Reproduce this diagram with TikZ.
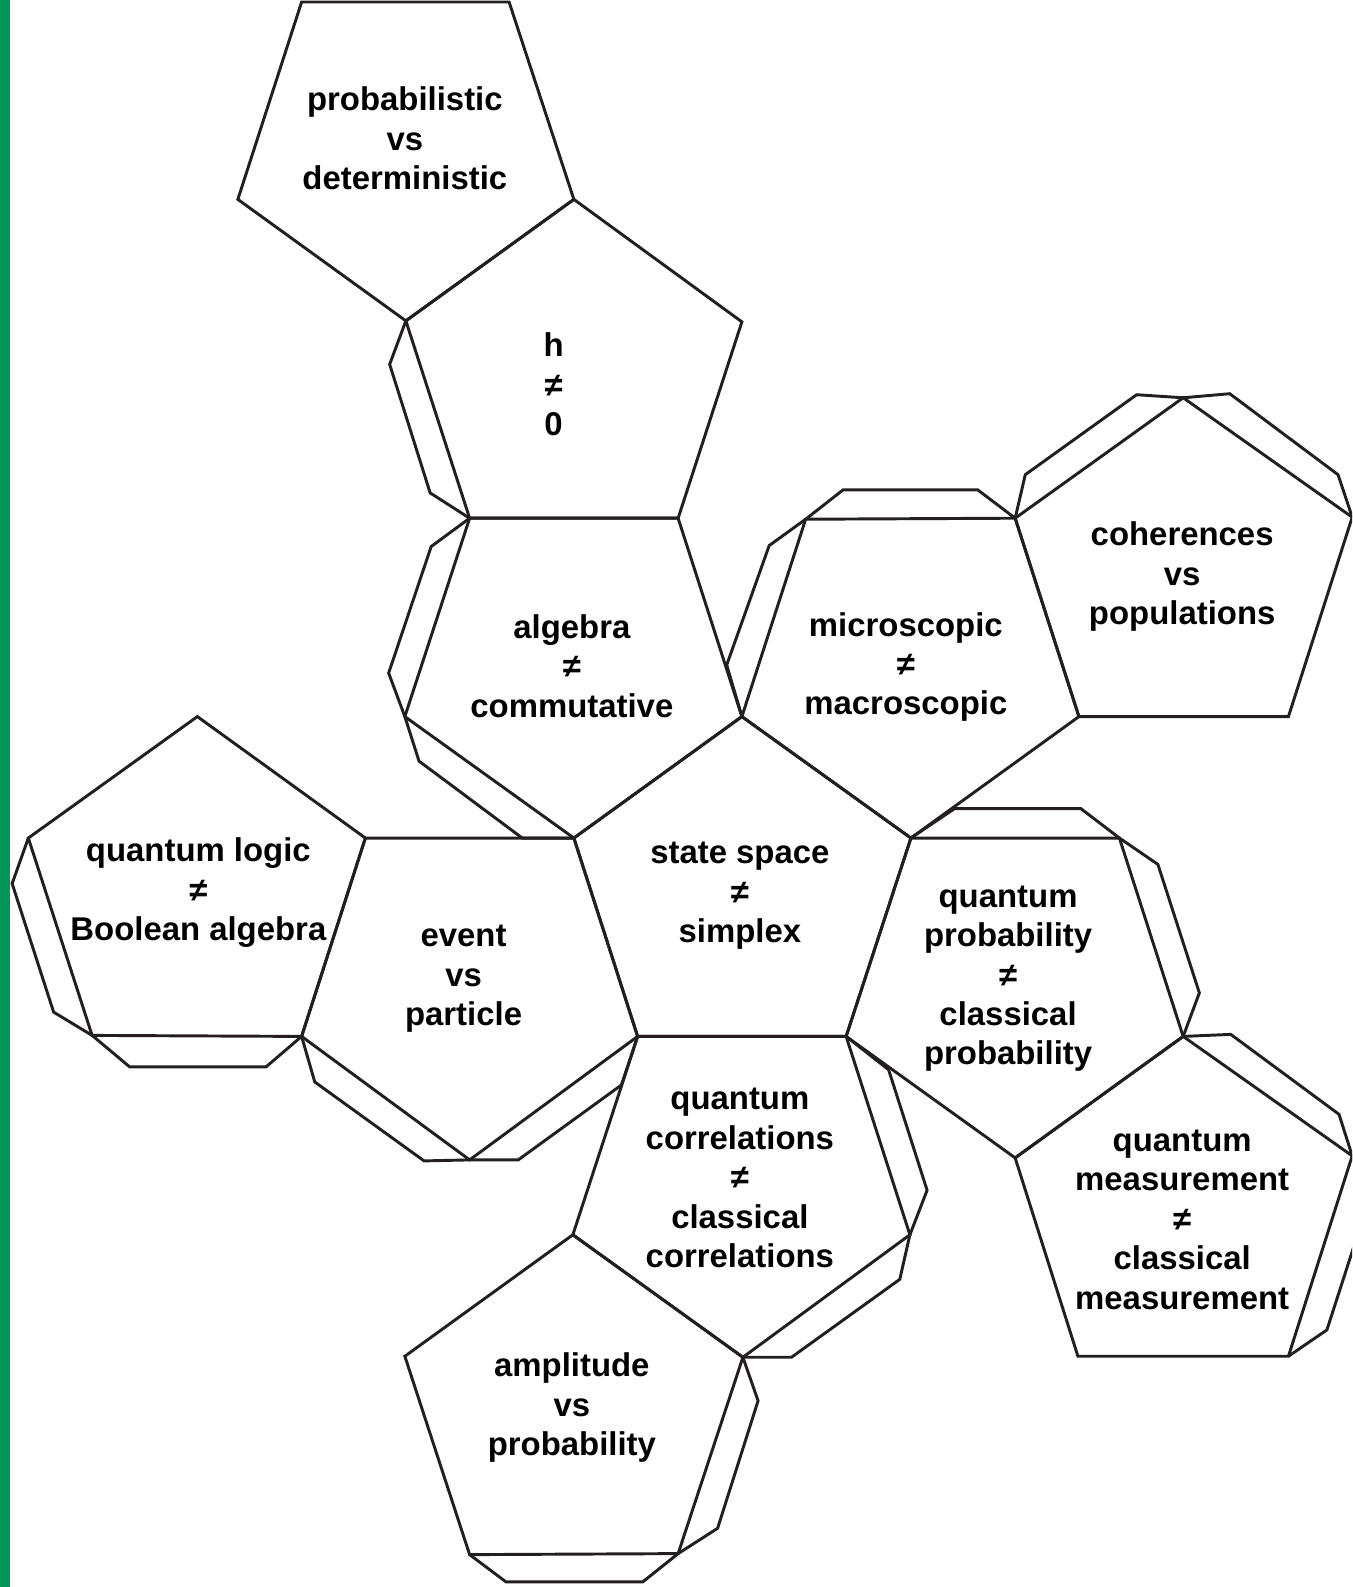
\documentclass[tikz,border=0pt]{standalone}
\usepackage{fontspec}
\setmainfont{Liberation Sans}
\definecolor{ink}{HTML}{231F20}
\definecolor{barcol}{RGB}{0,150,87}
\begin{document}
\begin{tikzpicture}[x=0.5pt,y=-0.5pt,
  face/.style={draw=ink,line width=1.45pt,line join=miter},
  tab/.style={draw=ink,line width=1.45pt,line join=miter},
  lbl/.style={align=center,inner sep=0pt,text=black,font=\fontsize{16.25}{19.5}\selectfont\bfseries}]
\useasboundingbox (0,0) rectangle (1336,1568);
\clip (0,0) rectangle (1336,1568);
\fill[white] (0,0) rectangle (1336,1568);
\fill[barcol] (0,0) rectangle (10,1568);
% vertices
\coordinate (p1) at (298,2);
\coordinate (p2) at (503,2);
\coordinate (p3) at (235,197);
\coordinate (p4) at (567,197);
\coordinate (p5) at (401,317);
\coordinate (h3) at (733,318);
\coordinate (h4) at (670,512);
\coordinate (h5) at (464,512);
\coordinate (a3) at (400,708);
\coordinate (a4) at (733,708);
\coordinate (a5) at (567,828);
\coordinate (c3) at (900,828);
\coordinate (c4) at (836,1024);
\coordinate (c5) at (630,1024);
\coordinate (m1) at (796,513);
\coordinate (m2) at (1003,512);
\coordinate (m3) at (1066,708);
\coordinate (co1) at (1169,393);
\coordinate (co2) at (1336,511);
\coordinate (co3) at (1273,708);
\coordinate (qp2) at (1106,828);
\coordinate (qp3) at (1169,1024);
\coordinate (qp4) at (1003,1144);
\coordinate (qm2) at (1336,1142);
\coordinate (qm3) at (1273,1340);
\coordinate (qm4) at (1065,1340);
\coordinate (e1) at (361,828);
\coordinate (e2) at (298,1024);
\coordinate (e3) at (464,1146);
\coordinate (ql1) at (195,708);
\coordinate (ql2) at (28,828);
\coordinate (ql3) at (91,1023);
\coordinate (qc1) at (566,1220);
\coordinate (qc2) at (899,1220);
\coordinate (qc3) at (734,1341);
\coordinate (ap1) at (400,1340);
\coordinate (ap2) at (464,1536);
\coordinate (ap3) at (670,1535);
% faces
\draw[face] (p1) -- (p2) -- (p4) -- (p5) -- (p3) -- cycle;
\draw[face] (p4) -- (h3) -- (h4) -- (h5) -- (p5) -- cycle;
\draw[face] (h5) -- (h4) -- (a4) -- (a5) -- (a3) -- cycle;
\draw[face] (a4) -- (c3) -- (c4) -- (c5) -- (a5) -- cycle;
\draw[face] (m1) -- (m2) -- (m3) -- (c3) -- (a4) -- cycle;
\draw[face] (co1) -- (co2) -- (co3) -- (m3) -- (m2) -- cycle;
\draw[face] (c3) -- (qp2) -- (qp3) -- (qp4) -- (c4) -- cycle;
\draw[face] (qp3) -- (qm2) -- (qm3) -- (qm4) -- (qp4) -- cycle;
\draw[face] (e1) -- (a5) -- (c5) -- (e3) -- (e2) -- cycle;
\draw[face] (ql1) -- (e1) -- (e2) -- (ql3) -- (ql2) -- cycle;
\draw[face] (c5) -- (c4) -- (qc2) -- (qc3) -- (qc1) -- cycle;
\draw[face] (qc1) -- (qc3) -- (ap3) -- (ap2) -- (ap1) -- cycle;
% glue tabs
\draw[tab] (p5) -- (385,360) -- (425,487) -- (h5);
\draw[tab] (h5) -- (426,540) -- (384,665) -- (a3);
\draw[tab] (a3) -- (414,752) -- (516,828) -- (a5);
\draw[tab] (m1) -- (760,539) -- (718,657) -- (a4);
\draw[tab] (m1) -- (833,484) -- (966,484) -- (m2);
\draw[tab] (m2) -- (1013,469) -- (1123,390) -- (co1);
\draw[tab] (co1) -- (1215,389) -- (1322,469) -- (co2);
\draw[tab] (c3) -- (943,799) -- (1068,799) -- (qp2);
\draw[tab] (qp2) -- (1144,854) -- (1185,981) -- (qp3);
\draw[tab] (qp3) -- (1216,1022) -- (1323,1101) -- (qm2);
\draw[tab] (qm2) -- (1352,1187) -- (1311,1314) -- (qm3);
\draw[tab] (c4) -- (878,1057) -- (916,1176) -- (qc2);
\draw[tab] (qc2) -- (889,1264) -- (782,1341) -- (qc3);
\draw[tab] (qc3) -- (749,1384) -- (709,1510) -- (ap3);
\draw[tab] (ap2) -- (500,1563) -- (635,1563) -- (ap3);
\draw[tab] (e2) -- (311,1069) -- (419,1147) -- (e3);
\draw[tab] (e3) -- (512,1146) -- (614,1072) -- (c5);
\draw[tab] (ql3) -- (128,1054) -- (263,1054) -- (e2);
\draw[tab] (ql2) -- (12,873) -- (53,1000) -- (ql3);
% labels
\node[lbl] (tP) at (400,137) {probabilistic\\vs\\deterministic};
\node[lbl] (tH) at (547,380) {h\\≠\\0};
\node[lbl] (tA) at (565,658) {algebra\\≠\\commutative};
\node[lbl] (tM) at (895,659) {microscopic\\≠\\macroscopic};
\node[lbl] (tCo) at (1168,570) {coherences\\vs\\populations};
\node[lbl] (tQL) at (196,882) {quantum logic\\≠\\Boolean algebra};
\node[lbl] (tE) at (458,967) {event\\vs\\particle};
\node[lbl] (tC) at (731,885) {state space\\≠\\simplex};
\node[lbl] (tQP) at (996,967) {quantum\\probability\\≠\\classical\\probability};
\node[lbl] (tQC) at (731,1164) {quantum\\correlations\\≠\\classical\\correlations};
\node[lbl] (tQM) at (1168,1205) {quantum\\measurement\\≠\\classical\\measurement};
\node[lbl] (tAP) at (565,1391) {amplitude\\vs\\probability};
\end{tikzpicture}
\end{document}
